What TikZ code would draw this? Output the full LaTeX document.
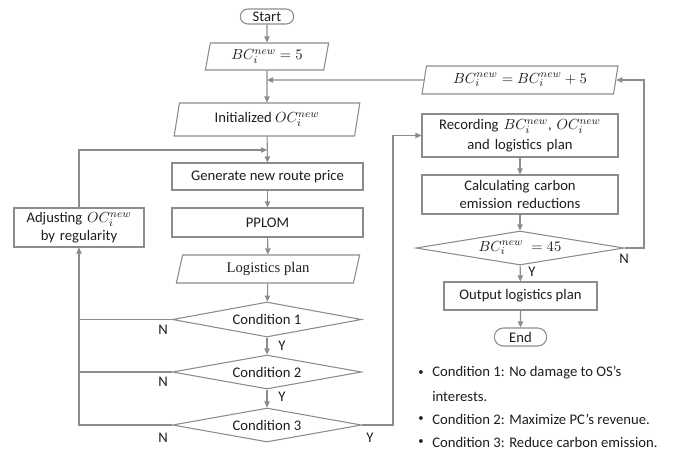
\documentclass[tikz,border=0pt]{standalone}
\usepackage{fontspec}
\setmainfont{Carlito}
\newfontfamily\serifb{Liberation Serif}
\usetikzlibrary{shapes.geometric,shapes.misc,arrows.meta}
\definecolor{lc}{RGB}{140,140,140}
\definecolor{tc}{RGB}{30,30,30}
\tikzset{
  base/.style={draw=lc, line width=0.8pt, text=tc, font=\fontsize{11}{14}\selectfont, align=center, inner sep=1pt},
  proc/.style={base, rectangle},
  io/.style={base, trapezium, trapezium left angle=79, trapezium right angle=101, trapezium stretches=true},
  dec/.style={base, diamond, inner sep=0pt, shape aspect=6},
  term/.style={base, rounded rectangle},
  conn/.style={draw=lc, line width=0.8pt},
  arr/.style={conn, -{Triangle[length=4.5pt,width=4pt]}},
  lbl/.style={text=tc, font=\fontsize{11}{13}\selectfont, inner sep=0pt},
}
\begin{document}
\begin{tikzpicture}[x=0.75pt,y=-0.75pt]
\useasboundingbox[fill=white] (0,0) rectangle (699,455);
% left column
\node[term, minimum width=56*0.75pt, minimum height=15*0.75pt] (start) at (267,16.5) {Start};
\node[io, minimum width=124*0.75pt, minimum height=27*0.75pt] (bc5) at (267,56.5) {$BC_i^{new}=5$};
\node[io, minimum width=186*0.75pt, minimum height=33*0.75pt] (init) at (267,119.5) {Initialized $OC_i^{new}$};
\node[proc, minimum width=191*0.75pt, minimum height=27*0.75pt] (gen) at (267.5,176.5) {Generate new route price};
\node[proc, minimum width=191*0.75pt, minimum height=29*0.75pt] (pplom) at (267.5,222.5) {PPLOM};
\node[proc, minimum width=130*0.75pt, minimum height=39*0.75pt, text width=125*0.75pt] (adj) at (79,227.5) {Adjusting $OC_i^{new}$\\[-1pt] by regularity};
\node[io, minimum width=184*0.75pt, minimum height=28*0.75pt, font=\serifb\fontsize{11}{13}\selectfont] (logi) at (268,269) {Logistics plan};
\node[dec, minimum width=189*0.75pt, minimum height=35*0.75pt] (c1) at (267,319.5) {Condition 1};
\node[dec, minimum width=189*0.75pt, minimum height=34*0.75pt] (c2) at (267,372) {Condition 2};
\node[dec, minimum width=189*0.75pt, minimum height=34*0.75pt] (c3) at (267,425) {Condition 3};
% right column
\node[io, minimum width=196*0.75pt, minimum height=28*0.75pt] (bcp) at (520,80) {$BC_i^{new}=BC_i^{new}+5$};
\node[proc, minimum width=196*0.75pt, minimum height=43*0.75pt, text width=190*0.75pt] (rec) at (520,135.5) {Recording $BC_i^{new}$, $OC_i^{new}$\\[1pt] and logistics plan};
\node[proc, minimum width=196*0.75pt, minimum height=39*0.75pt, text width=190*0.75pt] (calc) at (520,194.5) {Calculating carbon\\ emission reductions};
\node[dec, minimum width=208*0.75pt, minimum height=34*0.75pt, shape aspect=8] (c45) at (520,248) {$BC_i^{new}\;=45$};
\node[proc, minimum width=153*0.75pt, minimum height=28*0.75pt] (out) at (520.5,296) {Output logistics plan};
\node[term, minimum width=55*0.75pt, minimum height=18*0.75pt] (end) at (520.5,337) {End};
% coordinates
\coordinate (m1) at (267,80);
\coordinate (m2) at (267,150);
\coordinate (cr) at (393,425);
\coordinate (cn) at (644,248);
% connectors left column
\draw[arr] (start) -- (bc5);
\draw[arr] (bc5) -- (init);
\draw[arr] (bcp.west) -- (m1);
\draw[arr] (init) -- (gen);
\draw[arr] (adj.north) |- (m2);
\draw[arr] (gen) -- (pplom);
\draw[arr] (pplom) -- (logi);
\draw[arr] (logi) -- (c1);
\draw[arr] (c1) -- (c2);
\draw[arr] (c2) -- (c3);
\draw[conn] (c1.west) -- (adj.south |- c1.west);
\draw[conn] (c2.west) -- (adj.south |- c2.west);
\draw[arr] (c3.west) -| (adj.south);
\draw[arr] (c3.east) -- (cr) |- (rec.west);
% right column
\draw[arr] (rec) -- (calc);
\draw[arr] (calc) -- (c45);
\draw[arr] (c45) -- (out);
\draw[arr] (out) -- (end);
\draw[arr] (c45.east) -- (cn) |- (bcp.east);
% labels
\node[lbl] (n1) at (163,330) {N};
\node[lbl] (n2) at (163,382) {N};
\node[lbl] (n3) at (163,438) {N};
\node[lbl] (y1) at (282,346) {Y};
\node[lbl] (y2) at (282,397) {Y};
\node[lbl] (y3) at (370,438) {Y};
\node[lbl] (n4) at (624,259) {N};
\node[lbl] (y4) at (532,272) {Y};
% notes
\node[lbl] (b1) at (421,373) {\fontsize{8}{8}\selectfont •};
\node[lbl, anchor=west] (t1) at (432,373) {Condition 1: No damage to OS’s};
\node[lbl, anchor=west] (t1b) at (432,396) {interests.};
\node[lbl] (b2) at (421,419) {\fontsize{8}{8}\selectfont •};
\node[lbl, anchor=west] (t2) at (432,419) {Condition 2: Maximize PC’s revenue.};
\node[lbl] (b3) at (421,442) {\fontsize{8}{8}\selectfont •};
\node[lbl, anchor=west] (t3) at (432,442) {Condition 3: Reduce carbon emission.};
\end{tikzpicture}
\end{document}
